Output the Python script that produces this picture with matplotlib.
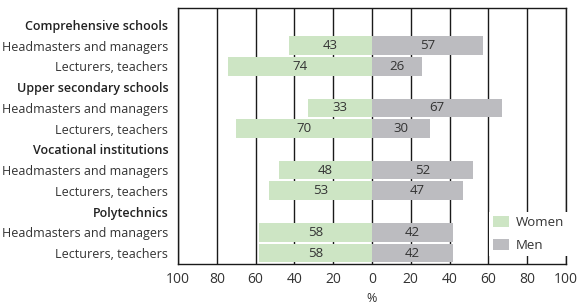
import matplotlib
matplotlib.use("Agg")
import matplotlib.pyplot as plt
from matplotlib.patches import Patch

plt.rcParams['font.family'] = ['Open Sans', 'DejaVu Sans']

row_labels = ["Comprehensive schools", "Headmasters and managers", "Lecturers, teachers",
              "Upper secondary schools", "Headmasters and managers", "Lecturers, teachers",
              "Vocational institutions", "Headmasters and managers", "Lecturers, teachers",
              "Polytechnics", "Headmasters and managers", "Lecturers, teachers"]
is_header = [True, False, False, True, False, False, True, False, False, True, False, False]
women = [None, 43, 74, None, 33, 70, None, 48, 53, None, 58, 58]
men = [None, 57, 26, None, 67, 30, None, 52, 47, None, 42, 42]
xticks = [-100, -80, -60, -40, -20, 0, 20, 40, 60, 80, 100]
xticklabels = ["100", "80", "60", "40", "20", "0", "20", "40", "60", "80", "100"]

c_w = "#cde5c4"
c_m = "#bcbcc0"
tc = "#333333"

fig = plt.figure(figsize=(5.77, 3.04), dpi=100)
ax = fig.add_axes([178/577, 1-264/304, (566-178)/577, (264-8)/304])

for x in xticks:
    ax.axvline(x, color="#1a1a1a", lw=1.0, zorder=0)

for i, (w, m) in enumerate(zip(women, men)):
    if w is None:
        continue
    ax.barh(i, -w, height=0.9, color=c_w, zorder=2)
    ax.barh(i, m, height=0.9, color=c_m, zorder=2)
    ax.text(-w/2, i, str(w), ha="center", va="center", fontsize=9.5, color=tc, zorder=3)
    ax.text(m/2, i, str(m), ha="center", va="center", fontsize=9.5, color=tc, zorder=3)

ax.set_xlim(-100, 100)
ax.set_ylim(11.53, -0.82)
ax.set_xticks(xticks)
ax.set_xticklabels(xticklabels, fontsize=10, color=tc)
ax.set_yticks(range(len(row_labels)))
ax.set_yticklabels(row_labels, fontsize=9, color=tc)
for lbl, h in zip(ax.get_yticklabels(), is_header):
    if h:
        lbl.set_fontweight("semibold")
        lbl.set_color("#222222")
ax.tick_params(axis="both", length=0)
ax.tick_params(axis="y", pad=7)
ax.tick_params(axis="x", pad=6)
ax.set_xlabel("%", fontsize=9, color=tc, labelpad=3)
for s in ax.spines.values():
    s.set_color("#1a1a1a")
    s.set_linewidth(1.0)

handles = [Patch(facecolor=c_w, label="Women"), Patch(facecolor=c_m, label="Men")]
leg = ax.legend(handles=handles, loc="lower right", bbox_to_anchor=(1.005, 0.03),
                frameon=True, fontsize=9.5, handlelength=1.2, handleheight=0.9,
                labelspacing=0.75, borderpad=0.3, handletextpad=0.5, borderaxespad=0.0,
                fancybox=False)
leg.get_frame().set_facecolor("white")
leg.get_frame().set_edgecolor("none")
leg.get_frame().set_alpha(1)
leg.set_zorder(5)
for t in leg.get_texts():
    t.set_color(tc)

fig.savefig("out.png", dpi=100)
